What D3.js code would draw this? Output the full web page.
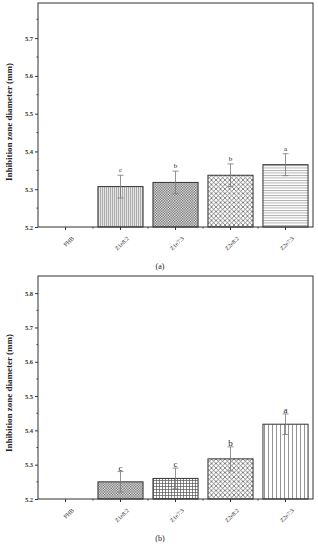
<!DOCTYPE html>
<html><head><meta charset="utf-8">
<script src="https://cdn.jsdelivr.net/npm/d3@7"></script>
<style>body{margin:0;background:#fff}svg{display:block}</style>
</head><body>
<svg id="c" width="318" height="550"></svg>
<script>
const categories = ["PHB", "Z1e8:2", "Z1e7:3", "Z2e8:2", "Z2e7:3"];
const valuesA = [5.2, 5.307, 5.318, 5.337, 5.365];
const errorsA = [0, 0.03, 0.03, 0.03, 0.029];
const lettersA = ["", "c", "b", "b", "a"];
const valuesB = [5.2, 5.25, 5.26, 5.317, 5.418];
const errorsB = [0, 0.03, 0.03, 0.035, 0.03];
const lettersB = ["", "c", "c", "b", "a"];
const yTicksA = [5.2, 5.3, 5.4, 5.5, 5.6, 5.7];
const yTicksB = [5.2, 5.3, 5.4, 5.5, 5.6, 5.7, 5.8];
const yLabel = "Inhibition zone diameter (mm)";

const svg = d3.select("#c");
const defs = svg.append("defs");
const ink = "#333";
function pat(id, w, h, draw, bg) {
  const p = defs.append("pattern").attr("id", id).attr("patternUnits", "userSpaceOnUse")
    .attr("width", w).attr("height", h);
  p.append("rect").attr("width", w).attr("height", h).attr("fill", bg || "#fff");
  draw(p);
}
pat("vdense", 2, 2, p => p.append("line").attr("x1", 0.5).attr("x2", 0.5).attr("y1", 0).attr("y2", 2).attr("stroke", "#9a9a9a").attr("stroke-width", 0.8), "#e6e6e6");
pat("checker", 2.6, 2.6, p => {
  p.append("rect").attr("width", 1.3).attr("height", 1.3).attr("fill", "#555");
  p.append("rect").attr("x", 1.3).attr("y", 1.3).attr("width", 1.3).attr("height", 1.3).attr("fill", "#555");
}, "#fff");
pat("diamond", 4.5, 4.5, p => {
  p.append("path").attr("d", "M0,0L4.5,4.5M4.5,0L0,4.5").attr("stroke", "#555").attr("stroke-width", 0.7);
});
pat("hlines", 3, 2.5, p => p.append("line").attr("x1", 0).attr("x2", 3).attr("y1", 0.5).attr("y2", 0.5).attr("stroke", "#888").attr("stroke-width", 0.7));
pat("grid", 3, 3, p => p.append("path").attr("d", "M0.5,0V3M0,0.5H3").attr("stroke", "#555").attr("stroke-width", 0.7));
pat("vsparse", 4, 4, p => p.append("line").attr("x1", 0.5).attr("x2", 0.5).attr("y1", 0).attr("y2", 4).attr("stroke", "#666").attr("stroke-width", 0.7));

const fillsA = ["none", "url(#vdense)", "url(#checker)", "url(#diamond)", "url(#hlines)"];
const fillsB = ["none", "url(#checker)", "url(#grid)", "url(#diamond)", "url(#vsparse)"];

const font = "'Liberation Serif', 'DejaVu Serif', serif";

function panel(cfg) {
  const g = svg.append("g");
  const x = d3.scaleBand().domain(categories).range([38, 313]).paddingInner(0.18).paddingOuter(0.09);
  const y = d3.scaleLinear().domain(cfg.domain).range([cfg.bottom, cfg.top]);
  const cx = d => x(d) + x.bandwidth() / 2;

  g.selectAll("rect.bar").data(categories).join("rect")
    .attr("x", d => x(d)).attr("width", x.bandwidth())
    .attr("y", (d, i) => y(cfg.values[i]))
    .attr("height", (d, i) => y(cfg.domain[0]) - y(cfg.values[i]))
    .attr("fill", (d, i) => cfg.fills[i])
    .attr("stroke", (d, i) => cfg.values[i] > cfg.domain[0] ? ink : "none").attr("stroke-width", 1);

  categories.forEach((c, i) => {
    if (!cfg.errors[i]) return;
    const v = cfg.values[i], e = cfg.errors[i], xc = cx(c);
    g.append("line").attr("x1", xc).attr("x2", xc).attr("y1", y(v - e)).attr("y2", y(v + e)).attr("stroke", "#777").attr("stroke-width", 0.8);
    [v - e, v + e].forEach(t => g.append("line").attr("x1", xc - 3).attr("x2", xc + 3).attr("y1", y(t)).attr("y2", y(t)).attr("stroke", "#777").attr("stroke-width", 0.8));
    g.append("text").attr("x", xc).attr("y", y(v + e) + cfg.letterDy).attr("text-anchor", "middle")
      .attr("font-family", font).attr("font-size", cfg.letterSize).attr("fill", "#222").text(cfg.letters[i]);
  });

  g.append("rect").attr("x", 38).attr("y", cfg.top).attr("width", 275).attr("height", cfg.bottom - cfg.top)
    .attr("fill", "none").attr("stroke", ink).attr("stroke-width", 1);

  const ya = g.append("g").attr("transform", "translate(38,0)")
    .call(d3.axisLeft(y).tickValues(cfg.yTicks).tickFormat(d3.format(".1f")).tickSize(3).tickPadding(2));
  ya.select(".domain").remove();
  ya.selectAll("line").attr("stroke", ink);
  ya.selectAll("text").attr("font-family", font).attr("font-size", 6.5).attr("font-weight", "bold").attr("fill", "#333");
  const minors = cfg.yTicks.map(t => t + 0.05).filter(t => t < cfg.domain[1] - 0.001);
  g.selectAll("line.ymin").data(minors).join("line").attr("x1", 36.5).attr("x2", 38)
    .attr("y1", d => y(d)).attr("y2", d => y(d)).attr("stroke", ink);

  const xa = g.append("g").attr("transform", `translate(0,${cfg.bottom})`)
    .call(d3.axisBottom(x).tickSize(3).tickPadding(2));
  xa.select(".domain").remove();
  xa.selectAll("line").attr("stroke", ink);
  xa.selectAll("text").attr("font-family", font).attr("font-size", 6).attr("fill", "#333")
    .attr("text-anchor", "end").attr("transform", "translate(4,7) rotate(-45)").attr("dy", "0.3em");
  const bounds = categories.slice(1).map(c => x(c) - x.step() * x.paddingInner() / 2);
  g.selectAll("line.xmin").data(bounds).join("line").attr("x1", d => d).attr("x2", d => d)
    .attr("y1", cfg.bottom).attr("y2", cfg.bottom + 1.5).attr("stroke", ink);

  g.append("text").attr("transform", `translate(12,${cfg.labelY}) rotate(-90)`).attr("text-anchor", "middle")
    .attr("font-family", font).attr("font-size", 9).attr("font-weight", "bold").attr("fill", "#222").text(yLabel);

  g.append("text").attr("x", 160).attr("y", cfg.captionY).attr("text-anchor", "middle")
    .attr("font-family", font).attr("font-size", 8).attr("fill", "#222").text(cfg.caption);
}

panel({ domain: [5.2, 5.793], top: 3, bottom: 227, values: valuesA, errors: errorsA, letters: lettersA,
  fills: fillsA, yTicks: yTicksA, letterDy: -3, letterSize: 7, labelY: 122, caption: "(a)", captionY: 269 });
panel({ domain: [5.2, 5.85], top: 276, bottom: 499, values: valuesB, errors: errorsB, letters: lettersB,
  fills: fillsB, yTicks: yTicksB, letterDy: -1, letterSize: 9, labelY: 393, caption: "(b)", captionY: 541 });
</script>
</body></html>
